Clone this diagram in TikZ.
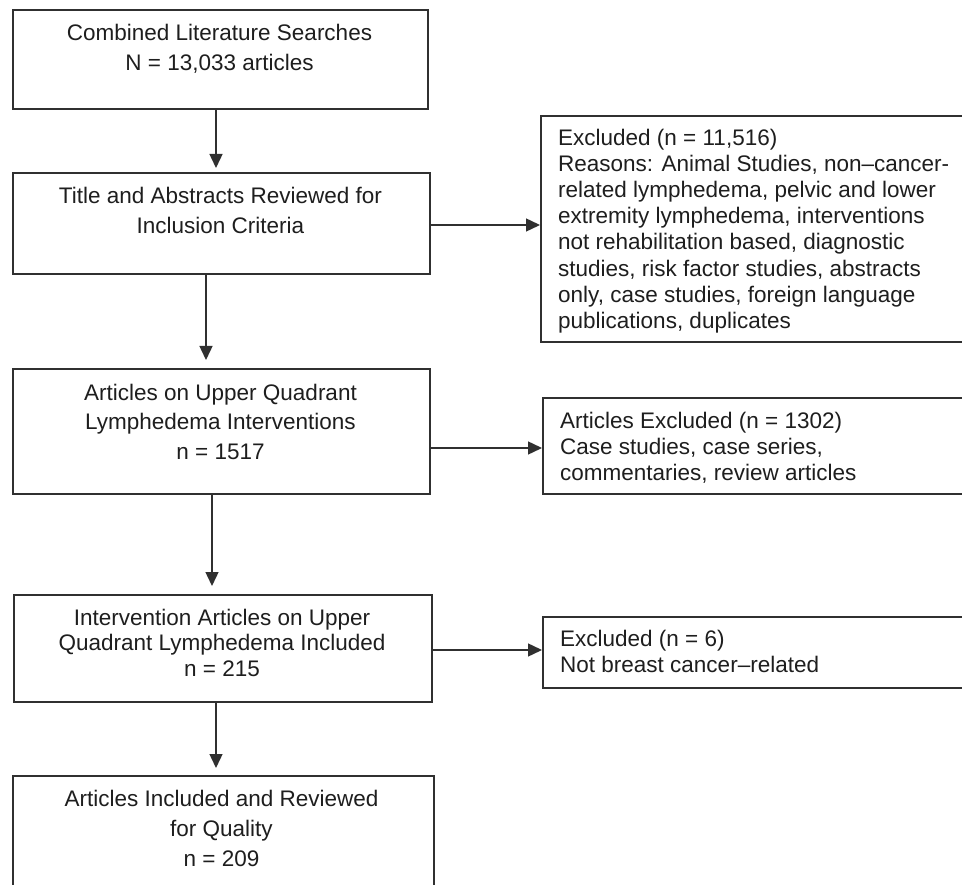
\documentclass[tikz,border=0pt]{standalone}
\usepackage{fontspec}
\setmainfont{Liberation Sans}
\usetikzlibrary{arrows.meta}
\definecolor{ink}{HTML}{1E1E1E}
\definecolor{edge}{HTML}{303030}
\begin{document}
\begin{tikzpicture}[x=1pt,y=-1pt,
  box/.style={draw=edge, line width=2pt, anchor=north west, inner sep=0pt},
  ctext/.style={anchor=north, align=center, inner sep=0pt, text=ink, font={\fontsize{22.5}{30}\selectfont}},
  ltext/.style={anchor=north west, align=left, inner sep=0pt, text=ink, font={\fontsize{22.5}{26.1}\selectfont}},
  arr/.style={draw=edge, line width=1.4pt, -{Triangle[length=14pt,width=13pt]}}]
\path[use as bounding box, clip] (0,0) rectangle (962,885);
\fill[white] (0,0) rectangle (962,885);
% left column boxes
\node[box, minimum width=415pt, minimum height=99pt] (b1) at (12,9) {};
\node[box, minimum width=417pt, minimum height=101pt] (b2) at (12,172) {};
\node[box, minimum width=417pt, minimum height=125pt] (b3) at (12,368) {};
\node[box, minimum width=418pt, minimum height=107pt] (b4) at (13,594) {};
\node[box, minimum width=421pt, minimum height=130pt] (b5) at (12,775) {};
% right column boxes
\node[box, minimum width=440pt, minimum height=226pt] (r1) at (540,115) {};
\node[box, minimum width=440pt, minimum height=96pt] (r2) at (542,397) {};
\node[box, minimum width=440pt, minimum height=71pt] (r3) at (542,616) {};
% texts
\node[ctext] (t1) at (219.5,24) {Combined Literature Searches\\N = 13,033 articles};
\node[ctext] (t2) at (220.5,186.6) {Title and Abstracts Reviewed for\\Inclusion Criteria};
\node[ctext, font={\fontsize{22.5}{29.5}\selectfont}] (t3) at (220.5,383.6) {Articles on Upper Quadrant\\Lymphedema Interventions\\n = 1517};
\node[ctext, font={\fontsize{22.5}{25.5}\selectfont}] (t4) at (222,608.6) {Intervention Articles on Upper\\Quadrant Lymphedema Included\\n = 215};
\node[ctext] (t5) at (221.5,789.6) {Articles Included and Reviewed\\for Quality\\n = 209};
\node[ltext] (s1) at (558,129) {Excluded (n = 11,516)\\Reasons: Animal Studies, non–cancer-\\related lymphedema, pelvic and lower\\extremity lymphedema, interventions\\not rehabilitation based, diagnostic\\studies, risk factor studies, abstracts\\only, case studies, foreign language\\publications, duplicates};
\node[ltext, font={\fontsize{22.5}{26}\selectfont}] (s2) at (560,411.6) {Articles Excluded (n = 1302)\\Case studies, case series,\\commentaries, review articles};
\node[ltext, font={\fontsize{22.5}{26}\selectfont}] (s3) at (560,629.6) {Excluded (n = 6)\\Not breast cancer–related};
% connector guides
\coordinate (v1) at (216,0);
\coordinate (v2) at (206,0);
\coordinate (v3) at (212,0);
\coordinate (v4) at (216,0);
\coordinate (h1) at (0,225);
\coordinate (h2) at (0,448);
\coordinate (h3) at (0,650);
% vertical arrows
\draw[arr, shorten >=4pt] (v1 |- b1.south) -- (v1 |- b2.north);
\draw[arr, shorten >=8pt] (v2 |- b2.south) -- (v2 |- b3.north);
\draw[arr, shorten >=8pt] (v3 |- b3.south) -- (v3 |- b4.north);
\draw[arr, shorten >=7pt] (v4 |- b4.south) -- (v4 |- b5.north);
% horizontal arrows
\draw[arr] (b2.east |- h1) -- (r1.west |- h1);
\draw[arr] (b3.east |- h2) -- (r2.west |- h2);
\draw[arr] (b4.east |- h3) -- (r3.west |- h3);
\end{tikzpicture}
\end{document}
